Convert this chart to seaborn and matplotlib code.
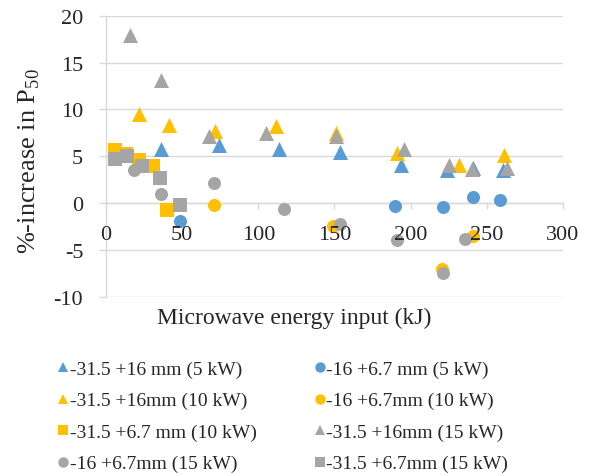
import matplotlib
matplotlib.use("Agg")
import matplotlib.pyplot as plt
import matplotlib.transforms as mtransforms
import seaborn as sns
import pandas as pd
from matplotlib.lines import Line2D

# ---- data ----
labels = ["-31.5 +16 mm (5 kW)", "-16 +6.7 mm (5 kW)",
          "-31.5 +16mm (10 kW)", "-16 +6.7mm (10 kW)",
          "-31.5 +6.7 mm (10 kW)", "-31.5 +16mm (15 kW)",
          "-16 +6.7mm (15 kW)", "-31.5 +6.7mm (15 kW)"]

s1_x = [36.2, 73.9, 113.8, 153.5, 193.4, 223.7, 241.2, 261.0]
s1_y = [5.8, 6.2, 5.8, 5.4, 4.1, 3.5, 3.7, 3.5]
s2_x = [48.7, 190.1, 221.3, 241.2, 258.8]
s2_y = [-1.9, -0.35, -0.4, 0.6, 0.35]
s3_x = [21.3, 41.0, 71.7, 111.6, 150.7, 191.2, 231.8, 261.4]
s3_y = [9.5, 8.3, 7.7, 8.2, 7.5, 5.3, 4.1, 5.1]
s4_x = [70.6, 149.1, 220.8, 241.2]
s4_y = [-0.18, -2.5, -7.05, -3.5]
s5_x = [5.9, 13.0, 21.3, 31.1, 39.9]
s5_y = [5.7, 5.2, 4.6, 4.0, -0.75]
s6_x = [15.8, 36.2, 67.3, 105.3, 150.7, 195.6, 225.2, 240.6, 263.2]
s6_y = [17.9, 13.1, 7.2, 7.5, 7.2, 5.8, 4.1, 3.6, 3.7]
s7_x = [18.3, 36.2, 71.0, 116.7, 153.5, 190.8, 221.3, 235.7]
s7_y = [3.5, 0.96, 2.1, -0.6, -2.2, -4.0, -7.5, -3.8]
s8_x = [5.9, 13.6, 23.5, 35.5, 48.2]
s8_y = [4.7, 5.05, 4.0, 2.7, -0.2]

x_ticks = [0, 50, 100, 150, 200, 250, 300]
y_ticks = [-10, -5, 0, 5, 10, 15, 20]

# ---- style ----
sns.set_theme(style="white")
plt.rcParams['font.family'] = ['Liberation Serif', 'DejaVu Serif']
plt.rcParams['mathtext.fontset'] = 'custom'
plt.rcParams['mathtext.rm'] = 'Liberation Serif'
plt.rcParams['axes.unicode_minus'] = False

BLUE = "#5B9BD5"
GOLD = "#FFC000"
GRAY = "#A5A5A5"
GRID = "#D9D9D9"
TXT = "#262626"

series = [
    (s1_x, s1_y, "^", BLUE), (s2_x, s2_y, "o", BLUE),
    (s3_x, s3_y, "^", GOLD), (s4_x, s4_y, "o", GOLD),
    (s5_x, s5_y, "s", GOLD), (s6_x, s6_y, "^", GRAY),
    (s7_x, s7_y, "o", GRAY), (s8_x, s8_y, "s", GRAY),
]
sizes = {"^": 117, "o": 88, "s": 95}

fig = plt.figure(figsize=(5.93, 4.77), dpi=100)
ax = fig.add_axes([0.179, 0.376, 0.770, 0.589])

for (xs, ys, m, c), lab in zip(series, labels):
    df = pd.DataFrame({"x": xs, "y": ys})
    sns.scatterplot(data=df, x="x", y="y", marker=m, color=c, s=sizes[m],
                    linewidth=0, ax=ax, legend=False, zorder=3)

ymin, ymax = -10, 20
ax.set_xlim(0, 300)
ax.set_ylim(ymin, ymax)
ax.set_yticks(y_ticks)
ax.set_xticks([])
ax.yaxis.grid(True, color=GRID, linewidth=1.0)
ax.xaxis.grid(False)
ax.set_axisbelow(True)

for sp in ["top", "right", "bottom"]:
    ax.spines[sp].set_visible(False)
ax.spines["left"].set_color(GRID)
ax.spines["left"].set_linewidth(1.0)

ax.tick_params(axis="y", direction="out", length=5, width=1.0, color=GRID,
               pad=11.5, labelsize=16, labelcolor=TXT, left=True)

# x axis crossing at y = 0 (line + tick marks)
loc0 = (0 - ymin) / (ymax - ymin)
sec = ax.secondary_xaxis(loc0)
sec.set_xticks(x_ticks)
sec.spines["bottom"].set_color(GRID)
sec.spines["bottom"].set_linewidth(1.0)
sec.tick_params(axis="x", direction="out", length=4.5, width=1.0, color=GRID,
                labelbottom=False, labeltop=False)

# x tick labels below the y = 0 axis line
off = mtransforms.ScaledTranslation(0, -32 / 100, fig.dpi_scale_trans)
for xv in x_ticks:
    ax.text(xv, 0, f"{xv}", transform=ax.transData + off, ha="center",
            va="center", fontsize=16, color=TXT, clip_on=False)

ax.set_xlabel("")
ax.set_ylabel("")
fig.text(0.496, 0.333, "Microwave energy input (kJ)", ha="center", va="center",
         fontsize=17, color=TXT)
fig.text(0.05, 0.662, "%-increase in P$_{\\mathrm{50}}$", ha="center", va="center",
         rotation=90, fontsize=19, color=TXT)

# legend (row-major order like reference)
handles = []
for (xs, ys, m, c), lab in zip(series, labels):
    handles.append(Line2D([], [], linestyle="", marker=m, color=c,
                          markersize=7.5, markeredgewidth=0, label=lab))
order = [0, 2, 4, 6, 1, 3, 5, 7]
leg = fig.legend([handles[i] for i in order], [labels[i] for i in order],
                 ncol=2, loc="upper left", bbox_to_anchor=(0.0818, 0.263),
                 frameon=False, fontsize=14, handlelength=0.5, handletextpad=0.1,
                 columnspacing=2.98, labelspacing=0.71, borderpad=0)
for t in leg.get_texts():
    t.set_color(TXT)

fig.savefig("out.png", dpi=100)
